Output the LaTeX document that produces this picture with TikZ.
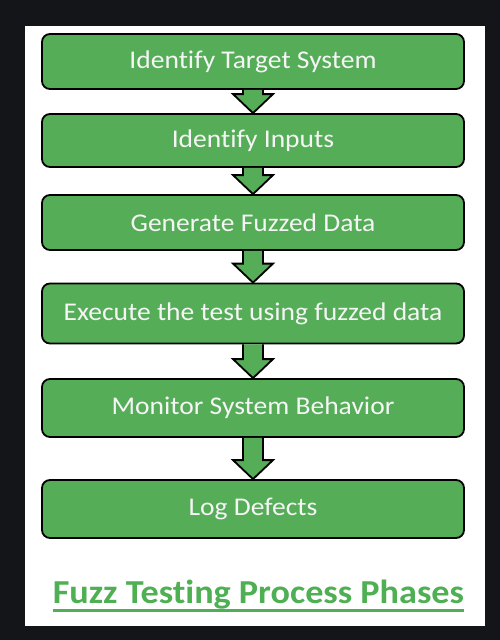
\documentclass[tikz,border=0pt]{standalone}
\usepackage{fontspec}
\setmainfont{Carlito}[FakeStretch=1.08,Ligatures=NoCommon]
\usepackage{xcolor}
\usepackage{tikz}
\usetikzlibrary{calc,positioning}
\definecolor{bgdark}{HTML}{141518}
\definecolor{phasegreen}{HTML}{55AD58}
\definecolor{titlegreen}{HTML}{4EAF53}
\tikzset{phase/.style={rectangle,rounded corners=8pt,draw=black,line width=1.8pt,fill=phasegreen,text=white!96!black,minimum width=422pt,minimum height=55pt,inner sep=0pt,font=\fontsize{25.5}{29}\selectfont}}
\tikzset{blk/.style={draw=black,line width=1.8pt,fill=phasegreen,line join=miter}}
\newcommand{\phasearrow}[2]{\draw[blk] ($(#1.south)+(-10,0)$) -- ($(#2.north)+(-10,-19)$) -- ($(#2.north)+(-20,-19)$) -- (#2.north) -- ($(#2.north)+(20,-19)$) -- ($(#2.north)+(10,-19)$) -- ($(#1.south)+(10,0)$);}

\begin{document}
\begin{tikzpicture}[x=1pt,y=-1pt]
        \fill[bgdark] (0,0) rectangle (500,640);
        \fill[white] (25,26) rectangle (485,626);
        \useasboundingbox (0,0) rectangle (500,640);

        \node[phase] (a) at (253,61.5) {Identify Target System};
        \node[phase,minimum height=53pt] (b) at (253,140.5) {Identify Inputs};
        \node[phase] (c) at (253,222.5) {Generate Fuzzed Data};
        \node[phase,minimum height=60pt] (d) at (253,313.5) {Execute the test using fuzzed data};
        \node[phase,minimum height=58pt] (e) at (253,408) {Monitor System Behavior};
        \node[phase,minimum height=58pt] (f) at (253,509) {Log Defects};

        \phasearrow{a}{b}
        \phasearrow{b}{c}
        \phasearrow{c}{d}
        \phasearrow{d}{e}
        \phasearrow{e}{f}

        \node[anchor=base,inner sep=0pt,text=titlegreen,font=\fontsize{33.5}{38}\selectfont\bfseries] (t) at (258.5,603) {Fuzz Testing Process Phases};
        \draw[titlegreen,line width=2.8pt] ($(t.base west)+(0,7.5)$) -- ($(t.base east)+(0,7.5)$);
    \end{tikzpicture}
\end{document}
